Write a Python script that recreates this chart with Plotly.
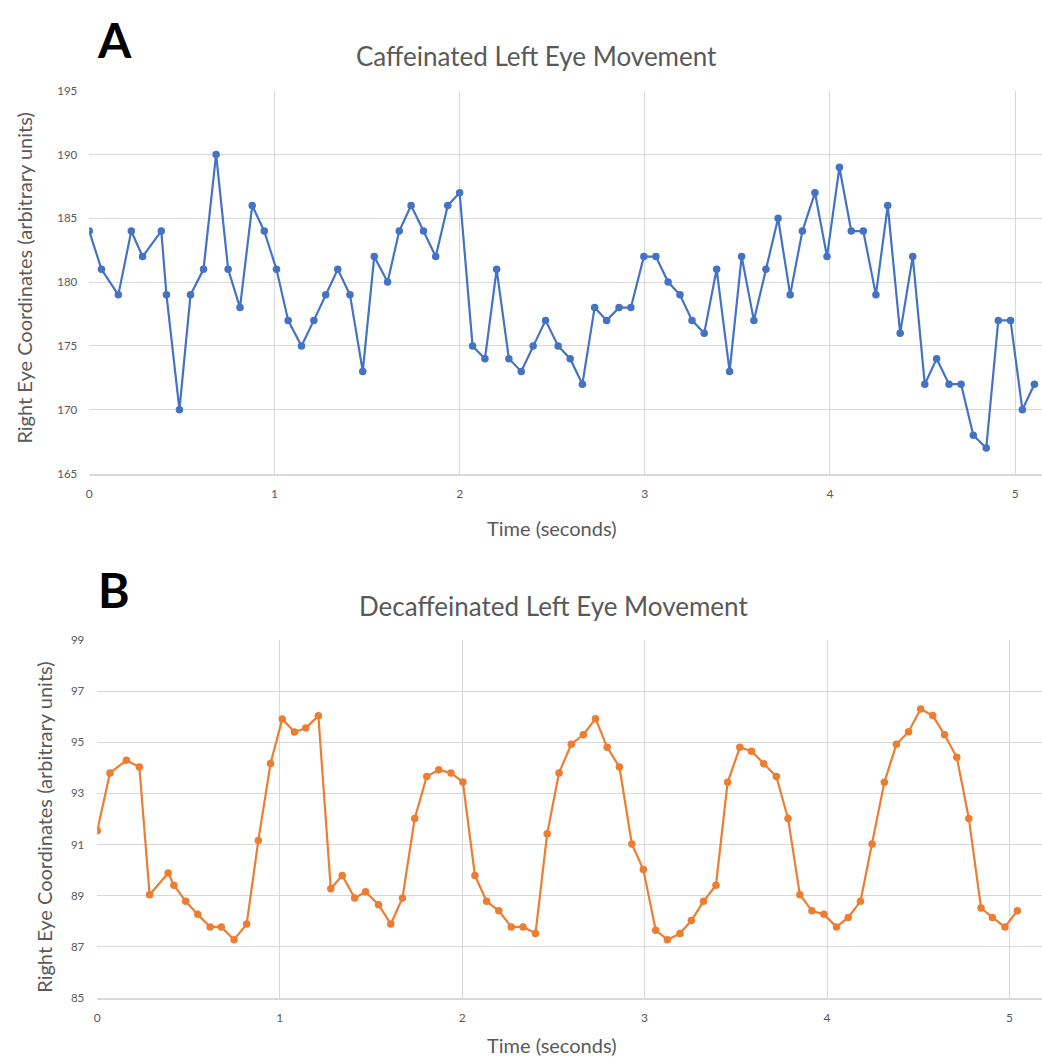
import plotly.graph_objects as go

# Panel A: caffeinated (time in s, coordinate)
time_a = [0.000, 0.066, 0.157, 0.227, 0.288, 0.389, 0.417, 0.487, 0.547, 0.617,
          0.685, 0.750, 0.814, 0.880, 0.945, 1.011, 1.074, 1.146, 1.213, 1.277,
          1.342, 1.408, 1.477, 1.539, 1.611, 1.674, 1.738, 1.805, 1.871, 1.936,
          2.000, 2.070, 2.137, 2.200, 2.266, 2.333, 2.397, 2.464, 2.532, 2.597,
          2.663, 2.729, 2.794, 2.861, 2.925, 2.995, 3.060, 3.126, 3.190, 3.255,
          3.321, 3.388, 3.458, 3.523, 3.589, 3.654, 3.720, 3.785, 3.851, 3.919,
          3.984, 4.051, 4.115, 4.180, 4.248, 4.312, 4.379, 4.447, 4.512, 4.576,
          4.643, 4.708, 4.774, 4.844, 4.909, 4.975, 5.039, 5.104]
coord_a = [184, 181, 179, 184, 182, 184, 179, 170, 179, 181,
           190, 181, 178, 186, 184, 181, 177, 175, 177, 179,
           181, 179, 173, 182, 180, 184, 186, 184, 182, 186,
           187, 175, 174, 181, 174, 173, 175, 177, 175, 174,
           172, 178, 177, 178, 178, 182, 182, 180, 179, 177,
           176, 181, 173, 182, 177, 181, 185, 179, 184, 187,
           182, 189, 184, 184, 179, 186, 176, 182, 172, 174,
           172, 172, 168, 167, 177, 177, 170, 172]

# Panel B: decaffeinated
time_b = [0.000, 0.070, 0.160, 0.231, 0.287, 0.389, 0.420, 0.485, 0.551, 0.619,
          0.680, 0.750, 0.819, 0.883, 0.950, 1.014, 1.081, 1.143, 1.212, 1.280,
          1.343, 1.411, 1.471, 1.542, 1.609, 1.673, 1.740, 1.806, 1.872, 1.939,
          2.004, 2.070, 2.134, 2.201, 2.269, 2.334, 2.402, 2.466, 2.531, 2.598,
          2.664, 2.731, 2.795, 2.862, 2.930, 2.993, 3.061, 3.125, 3.194, 3.256,
          3.323, 3.391, 3.455, 3.522, 3.586, 3.653, 3.722, 3.786, 3.851, 3.917,
          3.983, 4.052, 4.116, 4.183, 4.247, 4.314, 4.380, 4.447, 4.513, 4.579,
          4.644, 4.711, 4.777, 4.844, 4.906, 4.975, 5.043]
coord_b = [91.54, 93.80, 94.29, 94.03, 89.04, 89.89, 89.41, 88.78, 88.27, 87.78,
           87.78, 87.28, 87.89, 91.16, 94.17, 95.91, 95.40, 95.55, 96.03, 89.27,
           89.79, 88.91, 89.15, 88.65, 87.89, 88.91, 92.02, 93.66, 93.92, 93.80,
           93.44, 89.79, 88.78, 88.41, 87.78, 87.78, 87.52, 91.42, 93.80, 94.92,
           95.29, 95.92, 94.80, 94.03, 91.02, 90.02, 87.65, 87.28, 87.52, 88.03,
           88.78, 89.41, 93.43, 94.80, 94.65, 94.16, 93.66, 92.02, 89.04, 88.41,
           88.27, 87.78, 88.15, 88.78, 91.02, 93.43, 94.92, 95.41, 96.30, 96.04,
           95.29, 94.41, 92.02, 88.52, 88.15, 87.78, 88.41]

x_ticks = [0, 1, 2, 3, 4, 5]
y_ticks_a = [165, 170, 175, 180, 185, 190, 195]
y_ticks_b = [85, 87, 89, 91, 93, 95, 97, 99]

W, H = 1042, 1063
FONT = "Lato, 'Open Sans', sans-serif"
GRAY = "#595959"
GRID = "#d9d9d9"

fig = go.Figure()
fig.add_trace(go.Scatter(x=time_a, y=coord_a, mode="lines+markers",
                         line=dict(color="#4472C4", width=2.2),
                         marker=dict(color="#4472C4", size=7.5),
                         xaxis="x", yaxis="y", showlegend=False))
fig.add_trace(go.Scatter(x=time_b, y=coord_b, mode="lines+markers",
                         line=dict(color="#ED7D31", width=2.2),
                         marker=dict(color="#ED7D31", size=7.5),
                         xaxis="x2", yaxis="y2", showlegend=False))

def px_x(p):
    return p / W

def px_y(p):
    return 1 - p / H

common_x = dict(showgrid=True, gridcolor=GRID, gridwidth=1, zeroline=False,
                showline=True, linecolor=GRID, linewidth=1.5, ticks="",
                tickfont=dict(family=FONT, size=12, color=GRAY),
                ticklabelstandoff=8, tickvals=x_ticks, fixedrange=True)
common_y = dict(showgrid=True, gridcolor=GRID, gridwidth=1, zeroline=False,
                showline=False, ticks="",
                tickfont=dict(family=FONT, size=11.5, color=GRAY),
                fixedrange=True)

fig.update_layout(
    width=W, height=H,
    margin=dict(l=0, r=0, t=0, b=0),
    paper_bgcolor="white", plot_bgcolor="white",
    xaxis=dict(domain=[px_x(86.5), 1], range=[0, 5.145], anchor="y", **common_x),
    yaxis=dict(domain=[px_y(472.3), px_y(84.7)], range=[165, 195],
               tickvals=y_ticks_a, anchor="x", ticklabelstandoff=11, **common_y),
    xaxis2=dict(domain=[px_x(94.5), 1], range=[0, 5.178], anchor="y2", **common_x),
    yaxis2=dict(domain=[px_y(1003.3), px_y(640.7)], range=[85, 99],
                tickvals=y_ticks_b, anchor="x2", ticklabelstandoff=12, **common_y),
)

annotations = [
    dict(text="<b>A</b>", x=px_x(112), y=px_y(33), font=dict(family=FONT, size=48, color="black")),
    dict(text="Caffeinated Left Eye Movement", x=px_x(535), y=px_y(50),
         font=dict(family=FONT, size=26, color=GRAY)),
    dict(text="Right Eye Coordinates (arbitrary units)", x=px_x(21), y=px_y(274), textangle=-90,
         font=dict(family=FONT, size=20, color=GRAY)),
    dict(text="Time (seconds)", x=px_x(551), y=px_y(527), font=dict(family=FONT, size=20, color=GRAY)),
    dict(text="<b>B</b>", x=px_x(111), y=px_y(590), font=dict(family=FONT, size=48, color="black")),
    dict(text="Decaffeinated Left Eye Movement", x=px_x(552), y=px_y(606),
         font=dict(family=FONT, size=26, color=GRAY)),
    dict(text="Right Eye Coordinates (arbitrary units)", x=px_x(41), y=px_y(830), textangle=-90,
         font=dict(family=FONT, size=20, color=GRAY)),
    dict(text="Time (seconds)", x=px_x(551), y=px_y(1051), font=dict(family=FONT, size=20, color=GRAY)),
]
for a in annotations:
    a.update(xref="paper", yref="paper", showarrow=False, xanchor="center", yanchor="middle")
fig.update_layout(annotations=annotations)

fig.write_html("out.html",
               config={"displayModeBar": False},
               post_script="document.body.style.margin='0';document.body.style.overflow='hidden';")
